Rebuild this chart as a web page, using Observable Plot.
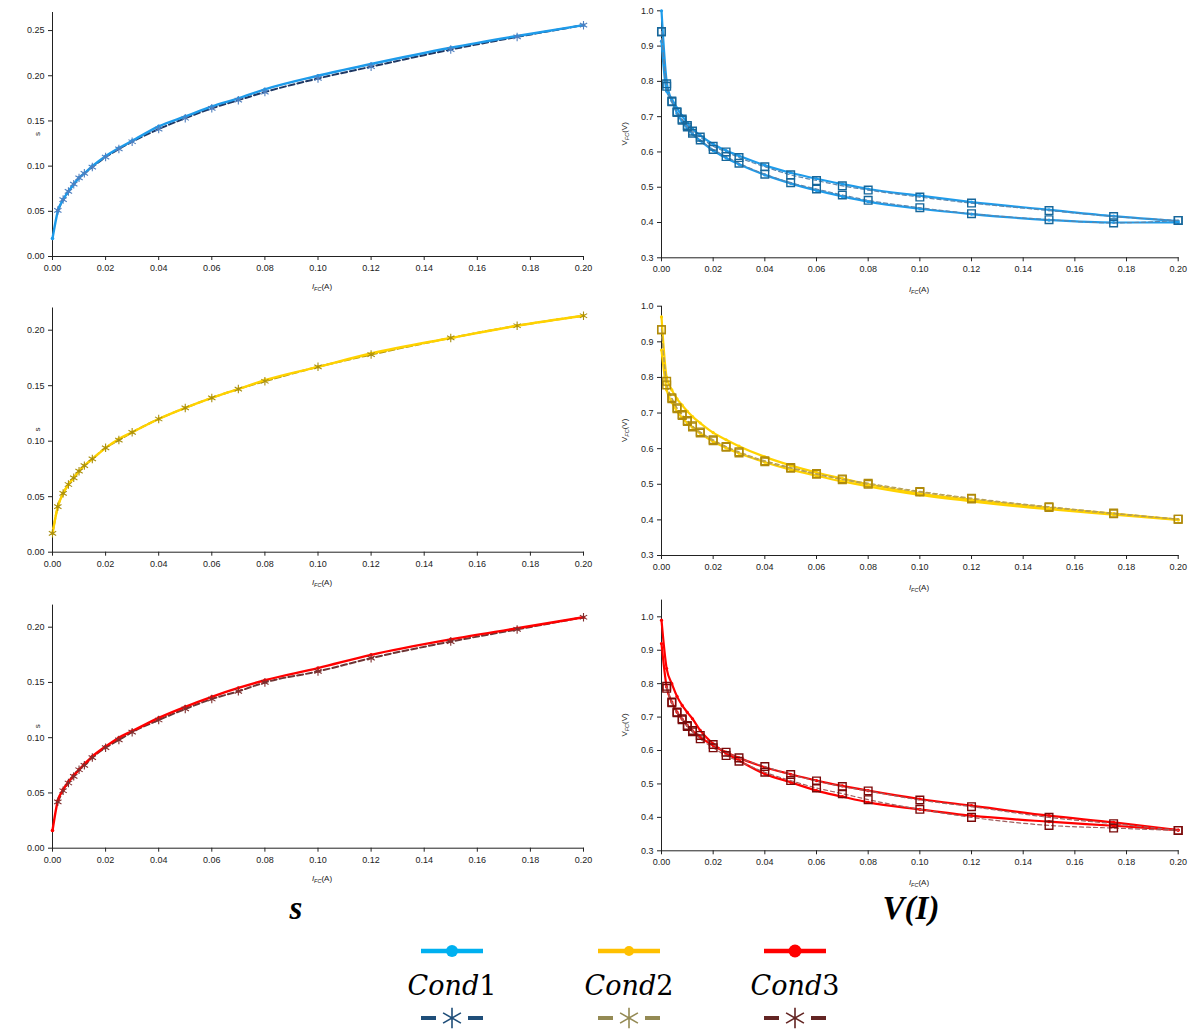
<!DOCTYPE html>
<html>
<head>
<meta charset="utf-8">
<script src="https://cdn.jsdelivr.net/npm/d3@7"></script>
<script src="https://cdn.jsdelivr.net/npm/@observablehq/plot@0.6"></script>
<style>
  html, body { margin: 0; padding: 0; background: #fff; }
  #root { position: relative; width: 1192px; height: 1032px; overflow: hidden; font-family: "Liberation Sans", Arial, sans-serif; }
  .panel { position: absolute; }
  .title { position: absolute; font-family: "Liberation Serif", "Times New Roman", serif; font-weight: bold; font-style: italic; font-size: 33px; transform: translate(-50%, -50%); white-space: nowrap; }
  .legtext { position: absolute; font-family: "DejaVu Serif", "Liberation Serif", serif; font-size: 27px; transform: translate(-50%, -50%); white-space: nowrap; color: #000; }
</style>
</head>
<body>
<div id="root"></div>
<script>
// ---------------- data ----------------
const current = [0, 0.002, 0.004, 0.006, 0.008, 0.010, 0.012, 0.015, 0.020, 0.025, 0.030, 0.040, 0.050, 0.060, 0.070, 0.080, 0.100, 0.120, 0.150, 0.175, 0.200];

// s (left column)
const s1Model = [0.020, 0.050, 0.063, 0.072, 0.080, 0.087, 0.092, 0.100, 0.111, 0.120, 0.128, 0.144, 0.155, 0.166, 0.175, 0.185, 0.200, 0.213, 0.231, 0.244, 0.256];
const s1Meas  = [null, 0.051, 0.063, 0.072, 0.080, 0.087, 0.092, 0.099, 0.110, 0.119, 0.127, 0.141, 0.153, 0.164, 0.173, 0.182, 0.197, 0.210, 0.229, 0.243, 0.256];
const s2Model = [0.017, 0.041, 0.053, 0.061, 0.067, 0.073, 0.078, 0.084, 0.094, 0.102, 0.108, 0.120, 0.130, 0.139, 0.147, 0.155, 0.167, 0.179, 0.193, 0.204, 0.213];
const s2Meas  = [0.017, 0.041, 0.053, 0.061, 0.067, 0.073, 0.078, 0.084, 0.094, 0.101, 0.108, 0.120, 0.130, 0.139, 0.147, 0.154, 0.167, 0.178, 0.193, 0.204, 0.213];
const s3Model = [0.016, 0.043, 0.053, 0.060, 0.066, 0.071, 0.076, 0.083, 0.092, 0.100, 0.106, 0.118, 0.128, 0.137, 0.145, 0.152, 0.163, 0.175, 0.189, 0.199, 0.209];
const s3Meas  = [null, 0.042, 0.052, 0.059, 0.065, 0.071, 0.075, 0.082, 0.091, 0.098, 0.105, 0.116, 0.126, 0.135, 0.142, 0.150, 0.160, 0.172, 0.187, 0.198, 0.209];

// V(I) (right column): measured (squares, dashed) and model (solid), two branches each
const v1MeasUp = [0.941, 0.793, 0.744, 0.714, 0.693, 0.675, 0.659, 0.642, 0.616, 0.600, 0.584, 0.558, 0.535, 0.519, 0.504, 0.492, 0.472, 0.455, 0.434, 0.417, 0.406];
const v1MeasLo = [0.941, 0.786, 0.742, 0.712, 0.690, 0.671, 0.653, 0.634, 0.607, 0.587, 0.568, 0.537, 0.513, 0.495, 0.478, 0.463, 0.442, 0.425, 0.408, 0.399, 0.406];
const v1ModUp  = [0.914, 0.772, 0.750, 0.724, 0.702, 0.682, 0.665, 0.647, 0.622, 0.604, 0.589, 0.562, 0.541, 0.524, 0.509, 0.495, 0.476, 0.458, 0.436, 0.418, 0.404];
const v1ModLo  = [1.000, 0.800, 0.745, 0.710, 0.686, 0.667, 0.651, 0.632, 0.604, 0.583, 0.565, 0.535, 0.511, 0.491, 0.474, 0.459, 0.439, 0.424, 0.407, 0.400, 0.400];

const v2MeasUp = [0.934, 0.789, 0.743, 0.715, 0.696, 0.679, 0.664, 0.647, 0.625, 0.606, 0.591, 0.566, 0.547, 0.530, 0.515, 0.503, 0.480, 0.461, 0.437, 0.419, 0.402];
const v2MeasLo = [0.934, 0.779, 0.740, 0.712, 0.693, 0.676, 0.661, 0.644, 0.622, 0.604, 0.588, 0.563, 0.545, 0.528, 0.513, 0.500, 0.478, 0.459, 0.435, 0.417, 0.402];
const v2ModUp  = [0.970, 0.800, 0.765, 0.740, 0.722, 0.705, 0.690, 0.672, 0.645, 0.625, 0.607, 0.577, 0.553, 0.533, 0.516, 0.500, 0.474, 0.456, 0.434, 0.418, 0.401];
const v2ModLo  = [0.877, 0.765, 0.730, 0.705, 0.687, 0.672, 0.660, 0.643, 0.620, 0.602, 0.587, 0.562, 0.541, 0.524, 0.508, 0.494, 0.470, 0.452, 0.430, 0.415, 0.400];

const v3MeasUp = [null, 0.792, 0.745, 0.715, 0.695, 0.675, 0.660, 0.645, 0.618, 0.595, 0.578, 0.552, 0.528, 0.509, 0.492, 0.479, 0.452, 0.432, 0.400, 0.381, 0.361];
const v3MeasLo = [null, 0.786, 0.743, 0.713, 0.692, 0.672, 0.656, 0.635, 0.608, 0.585, 0.568, 0.535, 0.510, 0.488, 0.471, 0.453, 0.424, 0.400, 0.376, 0.368, 0.361];
const v3ModA   = [0.990, 0.845, 0.800, 0.762, 0.735, 0.714, 0.695, 0.660, 0.620, 0.592, 0.570, 0.530, 0.505, 0.480, 0.462, 0.445, 0.424, 0.405, 0.387, 0.375, 0.362];
const v3ModB   = [0.920, 0.790, 0.745, 0.715, 0.694, 0.675, 0.659, 0.640, 0.615, 0.595, 0.578, 0.550, 0.529, 0.510, 0.494, 0.480, 0.455, 0.435, 0.405, 0.385, 0.362];

// ticks
const xTicks = [0, 0.02, 0.04, 0.06, 0.08, 0.10, 0.12, 0.14, 0.16, 0.18, 0.20];
const sTicksTop = [0, 0.05, 0.10, 0.15, 0.20, 0.25];
const sTicks = [0, 0.05, 0.10, 0.15, 0.20];
const vTicks = [0.3, 0.4, 0.5, 0.6, 0.7, 0.8, 0.9, 1.0];

const condNames = ["Cond1", "Cond2", "Cond3"];
const colors = {
  solid:  ["#1E9BEA", "#FFD200", "#FF0000"],
  dash:   ["#1F3864", "#B89B0A", "#6E3535"],
  star:   ["#4F7FBF", "#A88E10", "#7F2E2E"],
  square: ["#17679B", "#B08A0A", "#7A0A0A"],
  vdash:  ["#5A86AE", "#B8A050", "#A06060"],
  legStar:["#1F4E79", "#948A54", "#632523"]
};

// ---------------- helpers ----------------
const rows = ys => current.map((x, i) => ({x, y: ys[i]})).filter(d => d.y != null);

function addLabels(svg, o) {
  const s = d3.select(svg);
  const font = '"Liberation Sans", Arial, sans-serif';
  // x label I_FC(A)
  const tx = s.append("text").attr("x", o.xlx).attr("y", o.xly).attr("text-anchor", "middle")
    .attr("fill", "#222").style("font-family", font).style("font-size", "8px");
  tx.append("tspan").attr("font-style", "italic").text("I");
  tx.append("tspan").attr("font-style", "italic").attr("font-size", "5.5px").attr("dy", 2).text("FC");
  tx.append("tspan").attr("dy", -2).text("(A)");
  // y label
  const ty = s.append("text").attr("transform", `translate(${o.ylx},${o.yly}) rotate(-90)`)
    .attr("text-anchor", "middle").attr("fill", "#222").style("font-family", font).style("font-size", "8px");
  if (o.ylab === "s") {
    ty.text("s");
  } else {
    ty.append("tspan").text("V");
    ty.append("tspan").attr("font-style", "italic").attr("font-size", "5.5px").attr("dy", 2).text("FC");
    ty.append("tspan").attr("dy", -2).text("(V)");
  }
}

function panel(opts) {
  const el = Plot.plot({
    width: opts.width, height: opts.height,
    marginLeft: opts.ml, marginRight: opts.mr, marginTop: opts.mt, marginBottom: opts.mb,
    style: {background: "transparent", fontFamily: '"Liberation Sans", Arial, sans-serif', fontSize: "9px", color: "#222", overflow: "visible"},
    x: {domain: [0, 0.2], ticks: xTicks, tickFormat: d3.format(".2f"), tickSize: 4, tickPadding: 4, label: null, line: true},
    y: {domain: opts.ydomain, ticks: opts.yticks, tickFormat: opts.yfmt, tickSize: 4, tickPadding: 4, label: null, line: true},
    marks: opts.marks
  });
  el.setAttribute("class", (el.getAttribute("class") || "") + " panel");
  el.style.position = "absolute";
  el.style.left = opts.left + "px";
  el.style.top = opts.top + "px";
  el.style.maxWidth = "none";
  addLabels(el, opts.labels);
  document.getElementById("root").appendChild(el);
}

const sModels = [s1Model, s2Model, s3Model];
const sMeas = [s1Meas, s2Meas, s3Meas];
const vSets = [
  {meas: [v1MeasUp, v1MeasLo], mod: [v1ModUp, v1ModLo]},
  {meas: [v2MeasUp, v2MeasLo], mod: [v2ModUp, v2ModLo]},
  {meas: [v3MeasUp, v3MeasLo], mod: [v3ModA, v3ModB]}
];

const rowsGeom = [
  {top: 0, height: 292, L: {mt: 12, mb: 36, ydomain: [0, 0.27], yticks: sTicksTop}, R: {mt: 10.3, mb: 34.7, ydomain: [0.3, 1.0]}},
  {top: 292, height: 300, L: {mt: 15.5, mb: 40.3, ydomain: [0, 0.22], yticks: sTicks}, R: {mt: 13.7, mb: 37, ydomain: [0.3, 1.0]}},
  {top: 592, height: 308, L: {mt: 12.6, mb: 52.3, ydomain: [0, 0.22], yticks: sTicks}, R: {mt: 7.6, mb: 49.7, ydomain: [0.3, 1.05]}}
];

for (let k = 0; k < 3; k++) {
  const g = rowsGeom[k];
  // ---- left: s ----
  const model = rows(sModels[k]);
  const meas = rows(sMeas[k]);
  panel({
    left: 0, top: g.top, width: 596, height: g.height,
    ml: 52, mr: 13, mt: g.L.mt, mb: g.L.mb,
    ydomain: g.L.ydomain, yticks: g.L.yticks, yfmt: d3.format(".2f"),
    marks: [
      Plot.line(meas, {x: "x", y: "y", stroke: colors.dash[k], strokeWidth: 2, strokeDasharray: "6,3", curve: "monotone-x"}),
      Plot.line(model, {x: "x", y: "y", stroke: colors.solid[k], strokeWidth: 2.4, curve: "monotone-x"}),
      Plot.dot(model, {x: "x", y: "y", r: 1.8, fill: colors.solid[k]}),
      Plot.dot(meas, {x: "x", y: "y", symbol: "asterisk", r: 4, stroke: colors.star[k], strokeWidth: 1.1})
    ],
    labels: {xlx: 322, xly: (g.height - g.L.mb) + 33, ylx: 40, yly: g.L.mt + (g.height - g.L.mt - g.L.mb) / 2, ylab: "s"}
  });

  // ---- right: V(I) ----
  const vs = vSets[k];
  const measRows = vs.meas.flatMap((arr, b) => rows(arr).map(d => ({...d, b})));
  const modRows = vs.mod.flatMap((arr, b) => rows(arr).map(d => ({...d, b})));
  panel({
    left: 596, top: g.top, width: 596, height: g.height,
    ml: 65, mr: 14.3, mt: g.R.mt, mb: g.R.mb,
    ydomain: g.R.ydomain, yticks: vTicks, yfmt: d3.format(".1f"),
    marks: [
      Plot.line(modRows, {x: "x", y: "y", z: "b", stroke: colors.solid[k], strokeWidth: 2.2, curve: "monotone-x"}),
      Plot.dot(modRows, {x: "x", y: "y", r: 1.6, fill: colors.solid[k]}),
      Plot.line(measRows, {x: "x", y: "y", z: "b", stroke: colors.vdash[k], strokeWidth: 1.2, strokeDasharray: "4,3", curve: "monotone-x"}),
      Plot.dot(measRows, {x: "x", y: "y", symbol: "square", r: 4.3, stroke: colors.square[k], strokeWidth: 1.4, fill: "none"})
    ],
    labels: {xlx: 323, xly: (g.height - g.R.mb) + 35, ylx: 31, yly: g.R.mt + (g.height - g.R.mt - g.R.mb) / 2, ylab: "V"}
  });
}

// ---------------- titles ----------------
const root = document.getElementById("root");
function addDiv(cls, x, y, html) {
  const d = document.createElement("div");
  d.className = cls; d.style.left = x + "px"; d.style.top = y + "px"; d.innerHTML = html;
  root.appendChild(d);
}
addDiv("title", 296, 908, "s");
addDiv("title", 911, 908, "V(I)");

// ---------------- legend ----------------
const legX = [452, 629, 795];
const legDot = [6, 5, 6.5];
const ns = "http://www.w3.org/2000/svg";
const leg = d3.select(root).append("svg").attr("width", 1192).attr("height", 132)
  .style("position", "absolute").style("left", "0px").style("top", "900px");
condNames.forEach((name, i) => {
  const cx = legX[i];
  leg.append("line").attr("x1", cx - 31).attr("x2", cx + 31).attr("y1", 51).attr("y2", 51)
    .attr("stroke", ["#00B0F0", "#FFC000", "#FF0000"][i]).attr("stroke-width", 4.5);
  leg.append("circle").attr("cx", cx).attr("cy", 51).attr("r", legDot[i]).attr("fill", ["#00B0F0", "#FFC000", "#FF0000"][i]);
  // dashed with star
  const c = colors.legStar[i];
  leg.append("line").attr("x1", cx - 31).attr("x2", cx - 16).attr("y1", 118).attr("y2", 118).attr("stroke", c).attr("stroke-width", 4);
  leg.append("line").attr("x1", cx + 16).attr("x2", cx + 31).attr("y1", 118).attr("y2", 118).attr("stroke", c).attr("stroke-width", 4);
  leg.append("path").attr("d", d3.symbol(d3.symbolAsterisk, 300)())
    .attr("transform", `translate(${cx},118)`).attr("stroke", c).attr("stroke-width", 1.6).attr("fill", "none");
  addDiv("legtext", cx, 985, "<span style='font-style:italic'>Cond</span>" + name.slice(4));
});
</script>
</body>
</html>
